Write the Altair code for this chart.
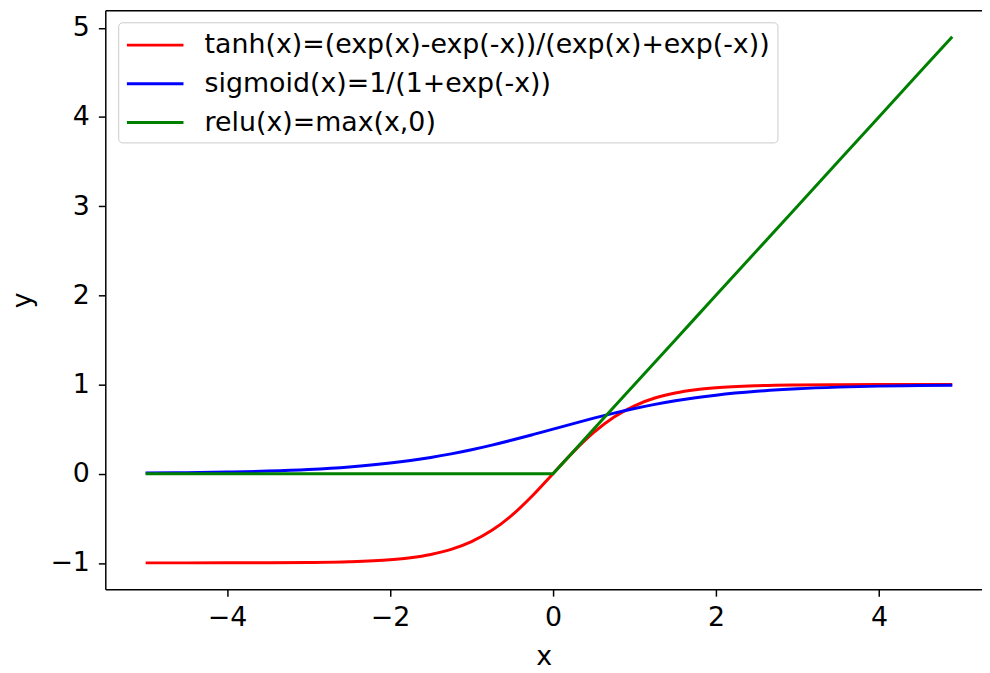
import altair as alt
import pandas as pd

xs = [-5, -4.5, -4, -3.5, -3, -2.5, -2, -1.75, -1.5, -1.25, -1, -0.75, -0.5, -0.25,
      0, 0.25, 0.5, 0.75, 1, 1.25, 1.5, 1.75, 2, 2.5, 3, 3.5, 4, 4.5, 4.9]
tanh_y = [-0.9999, -0.9998, -0.9993, -0.9982, -0.9951, -0.9866, -0.9640, -0.9414, -0.9051,
          -0.8483, -0.7616, -0.6351, -0.4621, -0.2449, 0.0, 0.2449, 0.4621, 0.6351, 0.7616,
          0.8483, 0.9051, 0.9414, 0.9640, 0.9866, 0.9951, 0.9982, 0.9993, 0.9998, 0.9999]
sigmoid_y = [0.0067, 0.0110, 0.0180, 0.0293, 0.0474, 0.0759, 0.1192, 0.1480, 0.1824, 0.2227,
             0.2689, 0.3208, 0.3775, 0.4378, 0.5, 0.5622, 0.6225, 0.6792, 0.7311, 0.7773,
             0.8176, 0.8520, 0.8808, 0.9241, 0.9526, 0.9707, 0.9820, 0.9890, 0.9926]
relu_y = [0, 0, 0, 0, 0, 0, 0, 0, 0, 0, 0, 0, 0, 0, 0, 0.25, 0.5, 0.75, 1, 1.25, 1.5, 1.75,
          2, 2.5, 3, 3.5, 4, 4.5, 4.9]

labels = ["tanh(x)=(exp(x)-exp(-x))/(exp(x)+exp(-x))",
          "sigmoid(x)=1/(1+exp(-x))",
          "relu(x)=max(x,0)"]
colors = ["red", "blue", "green"]

rows = []
for name, ys in zip(labels, [tanh_y, sigmoid_y, relu_y]):
    for i, (x, y) in enumerate(zip(xs, ys)):
        rows.append({"x": x, "y": y, "series": name, "order": i})
df = pd.DataFrame(rows)

FONT = "DejaVu Sans"
FS = 27
LW = 3

xscale = alt.Scale(domain=[-5.495, 5.265], nice=False, zero=False)
yscale = alt.Scale(domain=[-1.295, 5.195], nice=False, zero=False)
minus = "replace(datum.label, '-', '\u2212')"

color = alt.Color("series:N", sort=labels,
                  scale=alt.Scale(domain=labels, range=colors),
                  legend=alt.Legend(title=None, orient="none", legendX=13, legendY=12,
                                    symbolType="M-1,0H3", symbolSize=812,
                                    symbolStrokeWidth=3, labelFontSize=FS,
                                    labelFont=FONT, labelColor="#000",
                                    labelOffset=48, rowPadding=10, padding=7,
                                    strokeColor="#cccccc", fillColor="white",
                                    cornerRadius=4, labelLimit=0))

curves = alt.Chart(df).transform_filter(
    alt.datum.series != labels[2]
).mark_line(strokeWidth=LW, interpolate="monotone", clip=True).encode(
    x=alt.X("x:Q", scale=xscale,
            axis=alt.Axis(orient="bottom", values=[-4, -2, 0, 2, 4], format="d",
                          labelExpr=minus, title="x", titleY=68, titleBaseline="middle",
                          labelPadding=9)),
    y=alt.Y("y:Q", scale=yscale,
            axis=alt.Axis(values=[-1, 0, 1, 2, 3, 4, 5], format="d", labelExpr=minus,
                          title="y", titleX=-83, titleBaseline="middle", labelPadding=9)),
    color=color,
    order="order:Q",
    detail="series:N",
)

relu = alt.Chart(df).transform_filter(
    alt.datum.series == labels[2]
).mark_line(strokeWidth=LW, interpolate="linear", clip=True).encode(
    x=alt.X("x:Q", scale=xscale,
            axis=alt.Axis(orient="top", labels=False, ticks=False, title=None,
                          domain=True, grid=False)),
    y=alt.Y("y:Q", scale=yscale),
    color=color,
    order="order:Q",
)

chart = alt.layer(curves, relu).resolve_axis(x="independent").properties(
    width=883, height=583,
    autosize=alt.AutoSizeParams(type="none"),
    padding={"left": 98, "top": 0, "right": 0, "bottom": 80},
    background="white",
).configure_view(stroke=None).configure_axis(
    grid=False, domainColor="#000", domainWidth=1.5, tickColor="#000", tickWidth=1.5,
    tickSize=7, labelFont=FONT, labelFontSize=FS, labelColor="#000",
    titleFont=FONT, titleFontSize=FS, titleColor="#000", titleFontWeight="normal",
)

chart.save("out.html", embed_options={"renderer": "svg", "actions": False})
